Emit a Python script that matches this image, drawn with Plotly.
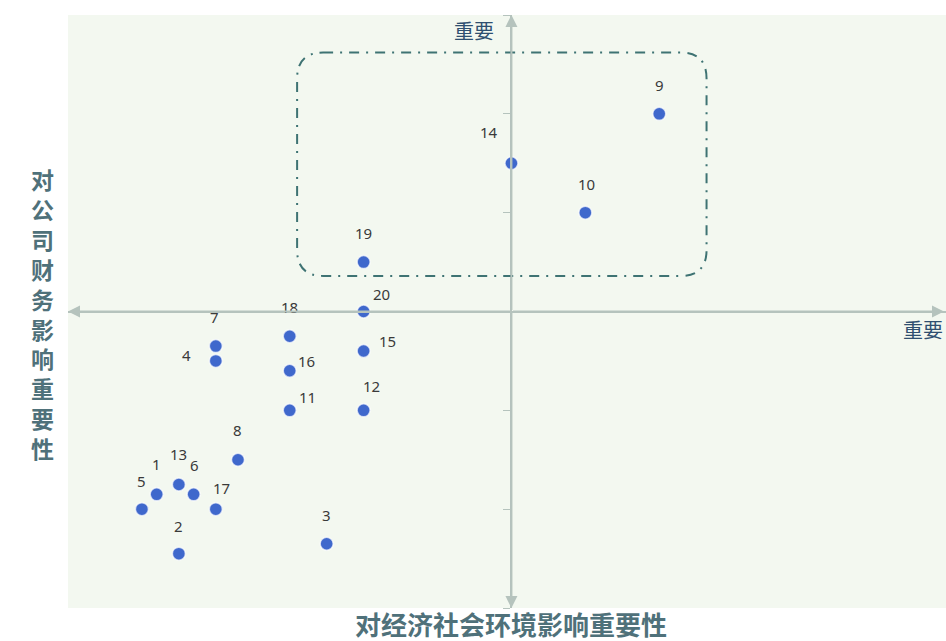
import plotly.graph_objects as go

# ---- data ----
issue_ids = ["1", "2", "3", "4", "5", "6", "7", "8", "9", "10",
             "11", "12", "13", "14", "15", "16", "17", "18", "19", "20"]
econ_social_env = [-4.8, -4.5, -2.5, -4.0, -5.0, -4.3, -4.0, -3.7, 2.0, 1.0,
                   -3.0, -2.0, -4.5, 0.0, -2.0, -3.0, -4.0, -3.0, -2.0, -2.0]
financial = [-1.85, -2.45, -2.35, -0.5, -2.0, -1.85, -0.35, -1.5, 2.0, 1.0,
             -1.0, -1.0, -1.75, 1.5, -0.4, -0.6, -2.0, -0.25, 0.5, 0.0]

x_title = "对经济社会环境影响重要性"
y_title = "对公司财务影响重要性"
axis_end_label = "重要"

# ---- style ----
X_RANGE = [-6.0, 5.88]
Y_RANGE = [-3.0, 3.0]
PLOT_BG = "#f3f8f0"
POINT_COLOR = "#3f68cc"
AXIS_COLOR = "#b5c3bd"
BOX_COLOR = "#3e7373"
TITLE_COLOR = "#4f717a"
LABEL_COLOR = "#2f4f70"
CJK = "Noto Sans CJK SC"

# label offsets in pixels (dx, dy) relative to each point
label_offsets = {
    "1": (0, 30), "2": (0, 28), "3": (0, 29), "4": (-29, 6), "5": (0, 28),
    "6": (1, 29), "7": (-1, 29), "8": (0, 30), "9": (0, 29), "10": (1, 29),
    "11": (18, 13), "12": (8, 24), "13": (0, 30), "14": (-22, 31), "15": (24, 10),
    "16": (17, 10), "17": (6, 21), "18": (0, 29), "19": (0, 29), "20": (18, 18),
}

# highlight box (data units) and corner radius (px)
box = dict(x0=-2.9, x1=2.64, y0=0.36, y1=2.62)
corner_px = 26

W, H = 946, 641
margin = dict(l=68, r=0, t=15, b=33)
plot_w = W - margin["l"] - margin["r"]
plot_h = H - margin["t"] - margin["b"]
px_x = (X_RANGE[1] - X_RANGE[0]) / plot_w
px_y = (Y_RANGE[1] - Y_RANGE[0]) / plot_h
rx = corner_px * px_x
ry = corner_px * px_y

fig = go.Figure()

fig.add_trace(go.Scatter(
    x=econ_social_env, y=financial, mode="markers",
    marker=dict(size=13, color=POINT_COLOR,
                line=dict(width=1.5, color="rgba(255,255,255,0.7)")),
    text=issue_ids, hoverinfo="text", showlegend=False, cliponaxis=False,
))

# point labels
for i, lab in enumerate(issue_ids):
    dx, dy = label_offsets[lab]
    fig.add_annotation(x=econ_social_env[i], y=financial[i], text=lab,
                       showarrow=False, xshift=dx, yshift=dy,
                       font=dict(size=15, color="#3a3a3a", family="Noto Sans"))

# rounded dash-dot highlight box
x0, x1, y0, y1 = box["x0"], box["x1"], box["y0"], box["y1"]
path = (f"M {x0+rx},{y1} L {x1-rx},{y1} Q {x1},{y1} {x1},{y1-ry} "
        f"L {x1},{y0+ry} Q {x1},{y0} {x1-rx},{y0} "
        f"L {x0+rx},{y0} Q {x0},{y0} {x0},{y0+ry} "
        f"L {x0},{y1-ry} Q {x0},{y1} {x0+rx},{y1} Z")
fig.add_shape(type="path", path=path, xref="x", yref="y",
              line=dict(color=BOX_COLOR, width=2, dash="10px,7px,2px,7px"))

# axis arrows
arrow_kw = dict(xref="x", yref="y", axref="x", ayref="y", text="",
                showarrow=True, arrowhead=2, arrowsize=1.2, arrowwidth=2,
                arrowcolor=AXIS_COLOR)
fig.add_annotation(x=0, y=Y_RANGE[1], ax=0, ay=0, **arrow_kw)
fig.add_annotation(x=0, y=Y_RANGE[0], ax=0, ay=0, **arrow_kw)
fig.add_annotation(x=X_RANGE[0], y=0, ax=0, ay=0, **arrow_kw)
fig.add_annotation(x=X_RANGE[1] - 2 * px_x, y=0, ax=0, ay=0, **arrow_kw)

# axis end labels
fig.add_annotation(x=0, y=Y_RANGE[1], text=axis_end_label, showarrow=False,
                   xanchor="right", yanchor="middle", xshift=-15, yshift=-15,
                   font=dict(size=20, color=LABEL_COLOR, family=CJK))
fig.add_annotation(x=X_RANGE[1], y=0, text=axis_end_label, showarrow=False,
                   xanchor="right", yanchor="middle", xshift=-1, yshift=-18,
                   font=dict(size=20, color=LABEL_COLOR, family=CJK))

# vertical y title
fig.add_annotation(xref="paper", yref="y", x=0, y=0, xshift=-26, yshift=-2,
                   text="<b>" + "<br>".join(list(y_title)) + "</b>",
                   showarrow=False, xanchor="center", yanchor="middle",
                   font=dict(size=23, color=TITLE_COLOR, family=CJK))

# x title
fig.add_annotation(xref="x", yref="paper", x=0, y=0, yshift=-15,
                   text=f"<b>{x_title}</b>", showarrow=False,
                   xanchor="center", yanchor="middle",
                   font=dict(size=26, color=TITLE_COLOR, family=CJK))

x_pos = (0 - X_RANGE[0]) / (X_RANGE[1] - X_RANGE[0])
y_pos = (0 - Y_RANGE[0]) / (Y_RANGE[1] - Y_RANGE[0])

fig.update_layout(
    width=W, height=H, margin=margin,
    paper_bgcolor="white", plot_bgcolor=PLOT_BG,
    xaxis=dict(range=X_RANGE, showgrid=False, zeroline=False,
               showline=True, linecolor=AXIS_COLOR, linewidth=2,
               anchor="free", position=y_pos, showticklabels=False, ticks=""),
    yaxis=dict(range=Y_RANGE, showgrid=False, zeroline=False,
               showline=True, linecolor=AXIS_COLOR, linewidth=2,
               anchor="free", position=x_pos, showticklabels=False,
               ticks="outside", ticklen=7, tickcolor=AXIS_COLOR, tickwidth=1,
               dtick=1, tick0=0),
)

fig.write_html(
    "out.html",
    config={"displayModeBar": False},
    post_script="document.body.style.margin='0';document.body.style.overflow='hidden';",
)
